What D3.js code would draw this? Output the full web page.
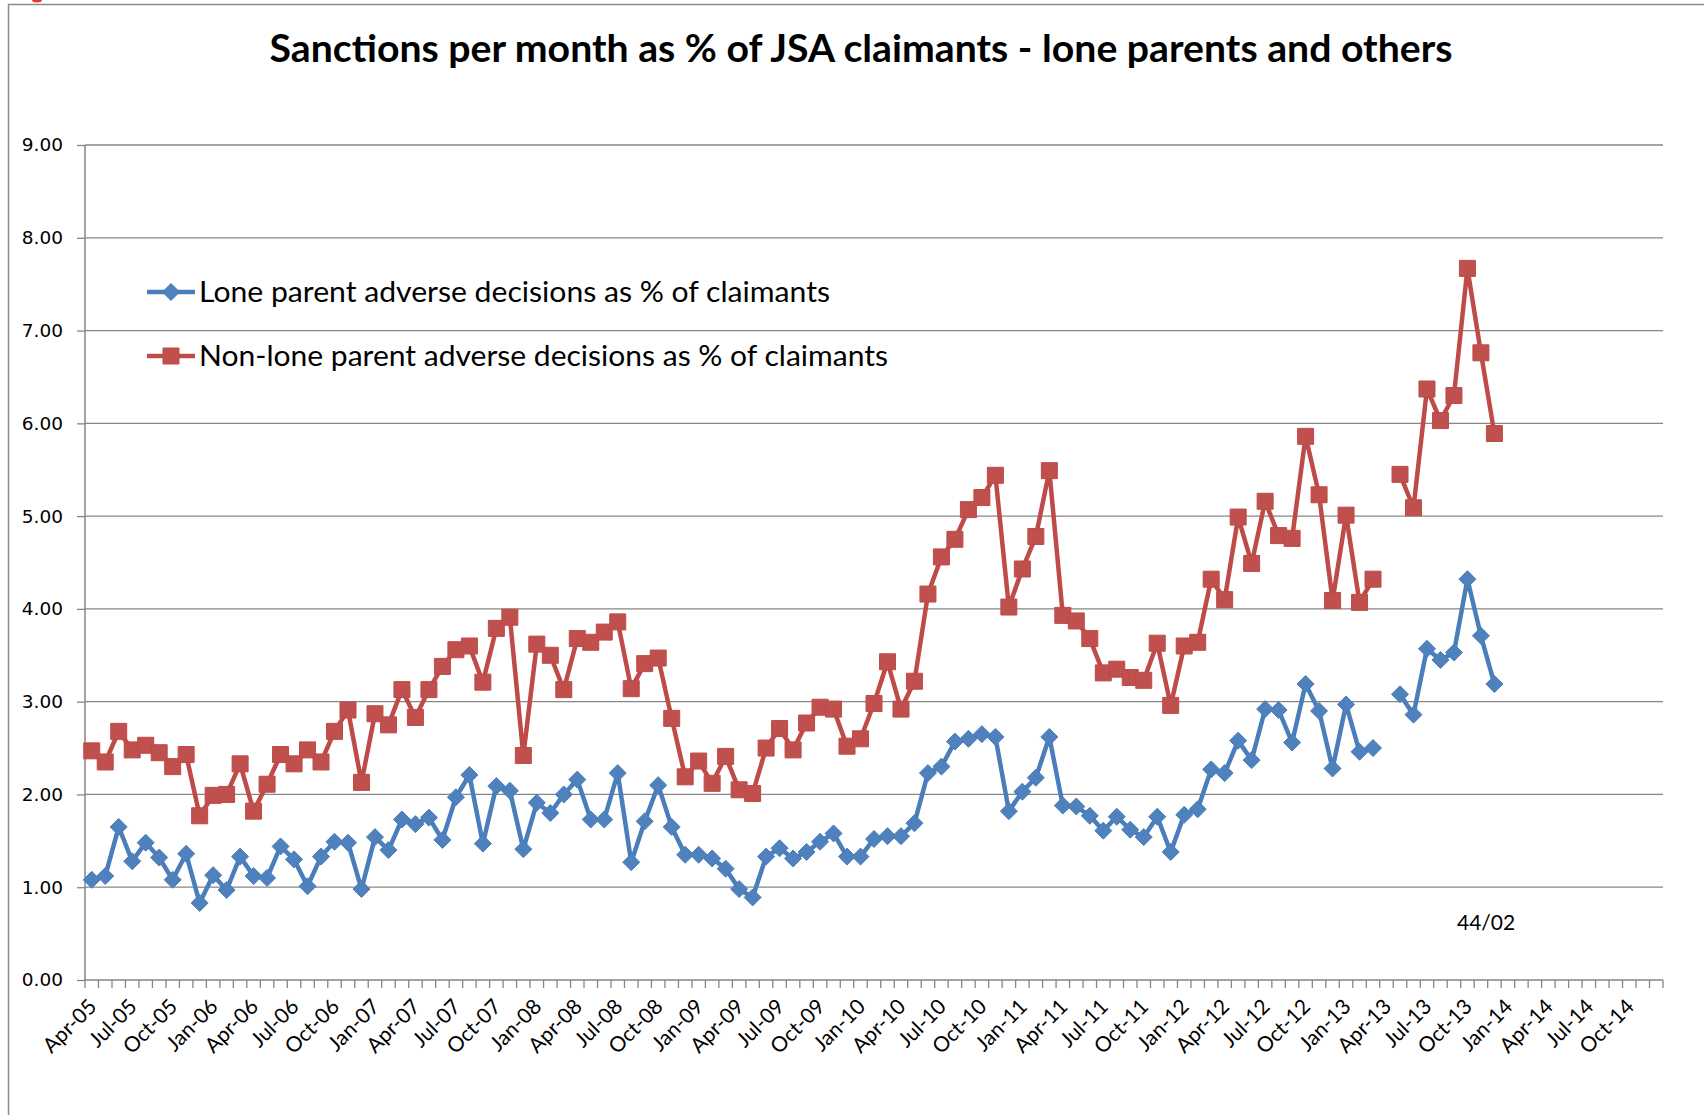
<!DOCTYPE html>
<meta charset="utf-8">
<script src="https://d3js.org/d3.v7.min.js"></script>
<style>
body { margin: 0; background-color: white; }
text { font-family: Lato, "Open Sans", sans-serif; fill: #000; }
</style>
<div id="chart"></div>
<script>
// months Apr-05 .. Dec-14 on the category axis
var months = d3.timeMonth.range(new Date(2005, 3, 1), new Date(2015, 0, 1));
var fmt = d3.timeFormat("%b-%y");
var categories = months.map(function(d) { return fmt(d); });

var yTicks = [0, 1, 2, 3, 4, 5, 6, 7, 8, 9];

// Apr-05 .. Dec-13, Apr-13 missing
var loneParent = [
  1.08, 1.12, 1.65, 1.28, 1.48, 1.32, 1.08, 1.36, 0.83,
  1.13, 0.97, 1.33, 1.12, 1.10, 1.44, 1.30, 1.01, 1.33, 1.49, 1.48, 0.98,
  1.54, 1.40, 1.73, 1.68, 1.75, 1.51, 1.97, 2.21, 1.47, 2.09, 2.04, 1.41,
  1.91, 1.80, 2.00, 2.16, 1.73, 1.73, 2.23, 1.27, 1.71, 2.10, 1.65, 1.35,
  1.35, 1.31, 1.20, 0.98, 0.89, 1.33, 1.42, 1.31, 1.38, 1.49, 1.58, 1.33,
  1.33, 1.52, 1.55, 1.55, 1.69, 2.23, 2.30, 2.57, 2.60, 2.65, 2.62, 1.82,
  2.03, 2.18, 2.62, 1.88, 1.87, 1.77, 1.61, 1.76, 1.62, 1.54, 1.76, 1.38,
  1.78, 1.84, 2.27, 2.23, 2.58, 2.37, 2.92, 2.91, 2.56, 3.19, 2.90, 2.28,
  2.97, 2.46, 2.50, null, 3.08, 2.86, 3.57, 3.45, 3.53, 4.32, 3.71, 3.19
];
var nonLoneParent = [
  2.47, 2.35, 2.68, 2.48, 2.53, 2.45, 2.30, 2.43, 1.77,
  1.99, 2.00, 2.33, 1.82, 2.11, 2.43, 2.33, 2.48, 2.35, 2.68, 2.91, 2.13,
  2.87, 2.75, 3.13, 2.83, 3.13, 3.38, 3.56, 3.60, 3.21, 3.79, 3.91, 2.42,
  3.62, 3.50, 3.13, 3.68, 3.64, 3.75, 3.86, 3.14, 3.41, 3.47, 2.82, 2.19,
  2.36, 2.12, 2.41, 2.05, 2.01, 2.50, 2.71, 2.48, 2.77, 2.94, 2.92, 2.52,
  2.60, 2.98, 3.43, 2.92, 3.22, 4.16, 4.56, 4.75, 5.07, 5.20, 5.44, 4.02,
  4.43, 4.78, 5.49, 3.93, 3.87, 3.68, 3.31, 3.35, 3.26, 3.23, 3.63, 2.96,
  3.60, 3.64, 4.32, 4.10, 4.99, 4.49, 5.16, 4.79, 4.76, 5.86, 5.23, 4.09,
  5.01, 4.07, 4.32, null, 5.45, 5.09, 6.37, 6.03, 6.30, 7.67, 6.76, 5.89
];

var W = 1704, H = 1115;
var plotLeft = 85, plotRight = 1663, plotTop = 145, plotBottom = 980;
var gray = "#868686";

var svg = d3.select("#chart").append("svg")
    .attr("width", W)
    .attr("height", H);

// chart frame
svg.append("rect").attr("width", W).attr("height", H).attr("fill", "white");
svg.append("path")
    .attr("d", "M8.5," + H + "V4.5H" + W)
    .attr("fill", "none").attr("stroke", "#8c8c8c").attr("stroke-width", 1.5);
svg.append("ellipse").attr("cx", 37).attr("cy", 0).attr("rx", 5).attr("ry", 2.5).attr("fill", "#e33");

var x = d3.scaleBand().domain(categories).range([plotLeft, plotRight]);
var y = d3.scaleLinear().domain([0, 9]).range([plotBottom, plotTop]);
var bw = x.bandwidth();

// gridlines
svg.append("g").selectAll("line")
  .data(yTicks.filter(function(d) { return d > 0; }))
  .enter().append("line")
    .attr("x1", plotLeft).attr("x2", plotRight)
    .attr("y1", function(d) { return y(d); })
    .attr("y2", function(d) { return y(d); })
    .attr("stroke", gray).attr("stroke-width", 1.3);

// y axis
var yAxis = d3.axisLeft(y).tickValues(yTicks).tickSize(8).tickPadding(14)
    .tickFormat(d3.format(".2f"));
var gy = svg.append("g").attr("transform", "translate(" + plotLeft + ",0)").call(yAxis);
gy.select(".domain").attr("stroke", gray).attr("stroke-width", 1.5)
  .attr("d", "M0," + plotTop + "V" + plotBottom);
gy.selectAll(".tick line").attr("stroke", gray).attr("stroke-width", 1.3);
gy.selectAll(".tick text")
  .style("font-family", "'DejaVu Sans', Verdana, sans-serif")
  .style("font-size", "18.5px").attr("fill", "#000");

// x axis: line + ticks on category boundaries
var bounds = categories.map(function(c) { return x(c); }).concat([plotRight]);
var gx = svg.append("g");
gx.append("line").attr("x1", plotLeft).attr("x2", plotRight)
  .attr("y1", plotBottom).attr("y2", plotBottom)
  .attr("stroke", gray).attr("stroke-width", 1.5);
gx.selectAll(".tk").data(bounds).enter().append("line")
  .attr("class", "tk")
  .attr("x1", function(d) { return d; }).attr("x2", function(d) { return d; })
  .attr("y1", plotBottom).attr("y2", plotBottom + 8)
  .attr("stroke", gray).attr("stroke-width", 1.3);
gx.selectAll(".lbl")
  .data(categories.filter(function(c, i) { return i % 3 === 0 && i <= 114; }))
  .enter().append("text")
  .attr("class", "lbl")
  .attr("text-anchor", "end")
  .attr("transform", function(d) {
    return "translate(" + (x(d) + bw / 2 + 6) + "," + (plotBottom + 28) + ") rotate(-45)";
  })
  .style("font-size", "21px")
  .text(function(d) { return d; });

// series
var series = [
  { name: "Lone parent adverse decisions as % of claimants", values: loneParent,
    line: "#4A7EBB", fill: "#4F81BD", marker: "diamond" },
  { name: "Non-lone parent adverse decisions as % of claimants", values: nonLoneParent,
    line: "#BE4B48", fill: "#C0504D", marker: "square" }
];

function cx(i) { return x(categories[i]) + bw / 2; }

var line = d3.line()
    .defined(function(d) { return d != null; })
    .x(function(d, i) { return cx(i); })
    .y(function(d) { return y(d); });

function markerPath(type) {
  if (type === "diamond") return "M0,-8.5L8.5,0L0,8.5L-8.5,0Z";
  return "M-8,-8H8V8H-8Z";
}

series.forEach(function(s) {
  svg.append("path")
    .datum(s.values)
    .attr("d", line)
    .attr("fill", "none")
    .attr("stroke", s.line)
    .attr("stroke-width", 4.5)
    .attr("stroke-linejoin", "round");
  svg.append("g").selectAll("path")
    .data(s.values.map(function(v, i) { return { v: v, i: i }; })
      .filter(function(d) { return d.v != null; }))
    .enter().append("path")
    .attr("d", markerPath(s.marker))
    .attr("transform", function(d) { return "translate(" + cx(d.i) + "," + y(d.v) + ")"; })
    .attr("fill", s.fill)
    .attr("stroke", s.line)
    .attr("stroke-width", 1);
});

// legend
var legendY = [292, 356];
var legendW = [631, 689];
series.forEach(function(s, k) {
  var g = svg.append("g").attr("transform", "translate(147," + legendY[k] + ")");
  g.append("line").attr("x1", 0).attr("x2", 48).attr("y1", 0).attr("y2", 0)
    .attr("stroke", s.line).attr("stroke-width", 4.5);
  g.append("path").attr("d", markerPath(s.marker)).attr("transform", "translate(24,0)")
    .attr("fill", s.fill).attr("stroke", s.line).attr("stroke-width", 1);
  g.append("text").attr("x", 52).attr("y", 10)
    .attr("textLength", legendW[k]).attr("lengthAdjust", "spacingAndGlyphs")
    .style("font-size", "29px")
    .text(s.name);
});

// title
svg.append("text")
  .attr("x", 861).attr("y", 62)
  .attr("text-anchor", "middle")
  .attr("textLength", 1183).attr("lengthAdjust", "spacingAndGlyphs")
  .style("font-size", "38px").style("font-weight", "bold")
  .text("Sanctions per month as % of JSA claimants - lone parents and others");

// note
svg.append("text").attr("x", 1457).attr("y", 930)
  .style("font-size", "21px")
  .text("44/02");
</script>
